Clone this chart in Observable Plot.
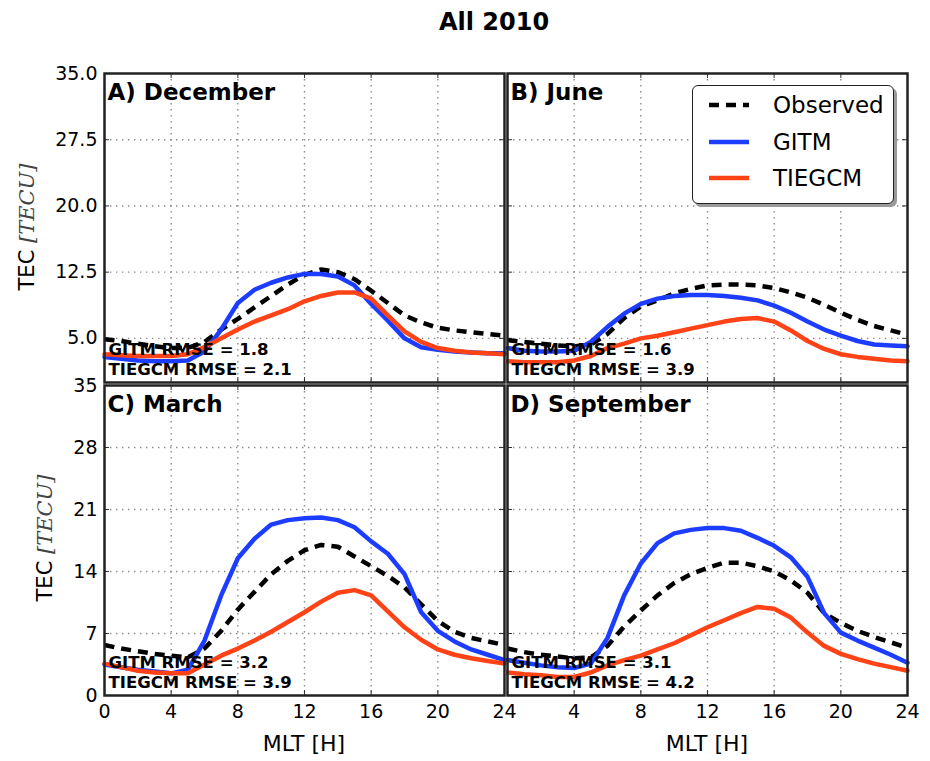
<!DOCTYPE html>
<html>
<head>
<meta charset="utf-8">
<script src="https://cdn.jsdelivr.net/npm/d3@7"></script>
<script src="https://cdn.jsdelivr.net/npm/@observablehq/plot@0.6"></script>
<style>
  body { margin: 0; background: #fff; }
  #wrap { position: relative; width: 930px; height: 761px; font-family: "DejaVu Sans", sans-serif; color: #000; overflow: hidden; }
  .abs { position: absolute; }
  #wrap svg { position: absolute; }
</style>
</head>
<body>
<div id="wrap"></div>
<script>
// ---------- data ----------
const hours = [0,1,2,3,4,5,6,7,8,9,10,11,12,13,14,15,16,17,18,19,20,21,22,23,24];

const obsDec    = [4.9,4.7,4.4,4.1,3.9,3.9,4.6,6.0,7.2,8.5,9.8,11.1,12.2,12.8,12.5,11.7,10.4,9.0,7.6,6.8,6.2,5.9,5.7,5.5,5.3];
const gitmDec   = [2.9,2.7,2.5,2.4,2.4,2.5,3.5,6.0,9.0,10.5,11.3,11.9,12.3,12.3,12.0,11.0,8.9,7.0,5.0,4.0,3.7,3.5,3.4,3.3,3.3];
const tiegcmDec = [3.2,3.1,3.0,3.0,3.0,3.2,4.0,5.0,6.0,6.9,7.6,8.3,9.2,9.8,10.2,10.2,9.5,7.6,5.8,4.6,3.9,3.6,3.4,3.3,3.2];

const obsJun    = [4.8,4.6,4.4,4.2,4.1,4.3,5.5,7.3,8.6,9.3,10.1,10.6,11.0,11.1,11.1,11.0,10.7,10.2,9.6,8.8,7.9,7.1,6.4,5.9,5.4];
const gitmJun   = [3.9,3.6,3.5,3.5,3.6,4.6,6.3,7.8,8.9,9.5,9.8,9.9,9.9,9.8,9.6,9.3,8.7,7.9,6.9,6.0,5.3,4.7,4.3,4.2,4.1];
const tiegcmJun = [2.4,2.3,2.3,2.3,2.5,3.0,3.9,4.4,5.0,5.3,5.7,6.1,6.5,6.9,7.2,7.3,6.9,5.9,4.7,3.8,3.2,2.9,2.7,2.5,2.4];

const obsMar    = [5.7,5.3,5.0,4.7,4.5,4.3,5.3,7.3,9.7,11.7,13.7,15.2,16.4,17.0,16.8,15.7,14.6,13.5,12.2,10.3,8.4,7.2,6.5,6.1,5.7];
const gitmMar   = [3.5,3.2,2.9,2.7,2.5,2.9,6.2,11.3,15.5,17.7,19.3,19.8,20.0,20.1,19.8,19.0,17.4,16.0,13.7,9.4,7.3,6.1,5.2,4.6,4.0];
const tiegcmMar = [3.6,3.2,2.8,2.6,2.5,2.5,3.5,4.5,5.3,6.2,7.2,8.3,9.4,10.6,11.6,11.9,11.3,9.5,7.7,6.3,5.2,4.6,4.2,3.9,3.6];

const obsSep    = [5.3,4.9,4.6,4.4,4.2,4.3,5.6,7.8,9.6,11.3,12.7,13.7,14.4,15.0,15.0,14.6,14.0,13.0,11.6,9.3,8.2,7.3,6.6,6.0,5.4];
const gitmSep   = [4.0,3.7,3.4,3.2,3.1,3.6,6.5,11.3,14.9,17.2,18.3,18.7,18.9,18.9,18.6,17.8,16.9,15.6,13.4,9.3,7.1,6.2,5.4,4.6,3.7];
const tiegcmSep = [2.6,2.4,2.3,2.1,2.1,2.6,3.4,4.0,4.5,5.2,5.9,6.8,7.7,8.5,9.3,10.0,9.8,8.8,7.1,5.6,4.7,4.1,3.6,3.2,2.8];

const panelTitles = ["A) December", "B) June", "C) March", "D) September"];
const gitmRmse   = ["1.8", "1.6", "3.2", "3.1"];
const tiegcmRmse = ["2.1", "3.9", "3.9", "4.2"];

const yTicksTop    = [5, 12.5, 20, 27.5, 35];
const yTicksBottom = [0, 7, 14, 21, 28, 35];
const xTicksAll    = [0, 4, 8, 12, 16, 20, 24];
const xTicksRight  = [4, 8, 12, 16, 20, 24];
const xGrid        = [4, 8, 12, 16, 20];

const seriesNames = ["Observed", "GITM", "TIEGCM"];
const colors = { Observed: "#000000", GITM: "#1c3dff", TIEGCM: "#ff4317" };

// ---------- drawing ----------
const wrap = document.getElementById("wrap");

function rowsOf(arr) { return hours.map((h, i) => ({ h, v: arr[i] })); }

function panel(o) {
  const W = 400, H = o.H;
  const ml = o.showY ? 70 : 4, mr = 4, mt = 4, mb = o.showX ? 34 : 4;
  const gridStyle = { stroke: "#8a8a8a", strokeOpacity: 1, strokeWidth: 1.4, strokeDasharray: "1.4,4.6" };
  const tickStyle = { stroke: "#333", strokeWidth: 1 };
  const innerY = o.yTicks.filter(t => t > 0 && t < 35);
  const marks = [
    Plot.gridX(xGrid, gridStyle),
    Plot.gridY(innerY, gridStyle),
    // inner tick marks (top / bottom / left / right)
    Plot.tickX(xGrid, { x: d => d, insetBottom: H - 5, ...tickStyle }),
    Plot.tickX(xGrid, { x: d => d, insetTop: H - 5, ...tickStyle }),
    Plot.tickY(innerY, { y: d => d, insetRight: W - 5, ...tickStyle }),
    Plot.tickY(innerY, { y: d => d, insetLeft: W - 5, ...tickStyle }),
    Plot.line(rowsOf(o.obs), { x: "h", y: "v", stroke: colors.Observed, strokeWidth: 4.5, strokeDasharray: "10,7", strokeLinecap: "butt" }),
    Plot.line(rowsOf(o.gitm), { x: "h", y: "v", stroke: colors.GITM, strokeWidth: 4.5, strokeLinejoin: "round" }),
    Plot.line(rowsOf(o.tiegcm), { x: "h", y: "v", stroke: colors.TIEGCM, strokeWidth: 4.5, strokeLinejoin: "round" }),
    Plot.frame({ stroke: "#222", strokeWidth: 2.5 }),
    Plot.text([o.title], { frameAnchor: "top-left", textAnchor: "start", lineAnchor: "middle", dx: 3, dy: 19, fontSize: 23, fontWeight: "bold" }),
    Plot.text(["GITM RMSE = " + o.rg], { frameAnchor: "bottom-left", textAnchor: "start", lineAnchor: "middle", dx: 4, dy: -33, fontSize: 16.5, fontWeight: "bold" }),
    Plot.text(["TIEGCM RMSE = " + o.rt], { frameAnchor: "bottom-left", textAnchor: "start", lineAnchor: "middle", dx: 4, dy: -13, fontSize: 16.5, fontWeight: "bold" })
  ];
  if (o.showY) marks.push(Plot.axisY(o.yTicks, { tickSize: 0, tickPadding: 7, tickFormat: o.yFmt, label: null }));
  if (o.showX) marks.push(Plot.axisX(o.xTicks, { tickSize: 0, tickPadding: 9, tickFormat: d => String(d), label: null }));
  const svg = Plot.plot({
    width: ml + W + mr, height: mt + H + mb,
    marginLeft: ml, marginRight: mr, marginTop: mt, marginBottom: mb,
    style: { background: "transparent", fontFamily: "DejaVu Sans, sans-serif", fontSize: "19px", color: "#000", overflow: "visible" },
    x: { domain: [0, 24], axis: null },
    y: { domain: [0, 35], axis: null },
    marks
  });
  svg.style.left = (o.left - ml) + "px";
  svg.style.top = (o.top - mt) + "px";
  wrap.appendChild(svg);
}

// bottom row first so that top-row frames sit above the "35" labels
panel({ title: panelTitles[2], obs: obsMar, gitm: gitmMar, tiegcm: tiegcmMar, rg: gitmRmse[2], rt: tiegcmRmse[2],
        yTicks: yTicksBottom, yFmt: d => String(d), showY: true, xTicks: xTicksAll, showX: true, left: 104, top: 385, H: 310 });
panel({ title: panelTitles[3], obs: obsSep, gitm: gitmSep, tiegcm: tiegcmSep, rg: gitmRmse[3], rt: tiegcmRmse[3],
        yTicks: yTicksBottom, showY: false, xTicks: xTicksRight, showX: true, left: 507, top: 385, H: 310 });
panel({ title: panelTitles[0], obs: obsDec, gitm: gitmDec, tiegcm: tiegcmDec, rg: gitmRmse[0], rt: tiegcmRmse[0],
        yTicks: yTicksTop, yFmt: d3.format(".1f"), showY: true, showX: false, left: 104, top: 73, H: 309 });
panel({ title: panelTitles[1], obs: obsJun, gitm: gitmJun, tiegcm: tiegcmJun, rg: gitmRmse[1], rt: tiegcmRmse[1],
        yTicks: yTicksTop, showY: false, showX: false, left: 507, top: 73, H: 309 });

// ---------- texts ----------
function addDiv(html, css) {
  const d = document.createElement("div");
  d.className = "abs";
  d.innerHTML = html;
  Object.assign(d.style, css);
  wrap.appendChild(d);
  return d;
}
addDiv("All 2010", { left: "294px", top: "10px", width: "400px", textAlign: "center", fontSize: "24px", fontWeight: "bold", lineHeight: "24px" });

const ylab = 'TEC <span style="font-family:\'DejaVu Serif\',serif;font-style:italic;color:#444">[TECU]</span>';
[[27, 227], [45, 538]].forEach(([cx, cy]) => {
  addDiv(ylab, { left: (cx - 100) + "px", top: (cy - 13) + "px", width: "200px", height: "26px", lineHeight: "26px",
                 textAlign: "center", fontSize: "21px", transform: "rotate(-90deg)", transformOrigin: "50% 50%", whiteSpace: "nowrap" });
});
[304, 707].forEach(cx => {
  addDiv("MLT [H]", { left: (cx - 100) + "px", top: "731px", width: "200px", height: "26px", lineHeight: "26px", textAlign: "center", fontSize: "22px" });
});

// ---------- legend ----------
const leg = addDiv("", { left: "692px", top: "85px", width: "200px", height: "117px", border: "1.6px solid #222", borderRadius: "6px",
                         background: "#fff", boxShadow: "3px 3px 0 #9a9a9a" });
const rowY = [19, 56, 92];
seriesNames.forEach((name, i) => {
  const dash = name === "Observed" ? 'stroke-dasharray="10,7"' : "";
  const r = document.createElement("div");
  r.style.cssText = `position:absolute;left:0;top:${rowY[i] - 14}px;height:28px;width:200px;`;
  r.innerHTML = `<svg width="60" height="28" style="position:absolute;left:14px;top:0"><line x1="2" x2="42" y1="14" y2="14" stroke="${colors[name]}" stroke-width="4.5" ${dash}/></svg>` +
                `<span style="position:absolute;left:80px;top:0;line-height:28px;font-size:23px;white-space:nowrap">${name}</span>`;
  leg.appendChild(r);
});
</script>
</body>
</html>
